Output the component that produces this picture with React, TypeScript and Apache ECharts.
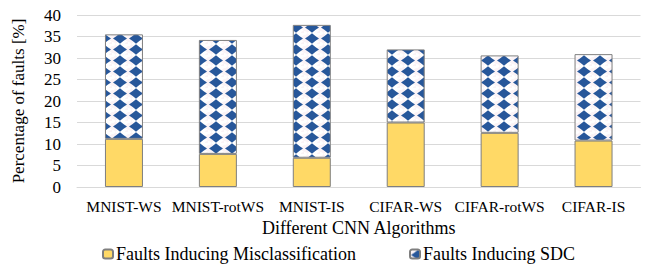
import React, { useEffect, useRef } from "react";
import * as echarts from "echarts";

const categories = ["MNIST-WS", "MNIST-rotWS", "MNIST-IS", "CIFAR-WS", "CIFAR-rotWS", "CIFAR-IS"];
const misclassification = [11.2, 7.7, 6.8, 15.0, 12.6, 10.8];
const sdc = [24.3, 26.5, 30.9, 17.0, 18.0, 20.1];
const yTicks = { min: 0, max: 40, interval: 5 };
const seriesNames = ["Faults Inducing Misclassification", "Faults Inducing SDC"];

function makePattern(): HTMLCanvasElement {
  const w = 16;
  const h = 11;
  const c = document.createElement("canvas");
  c.width = w;
  c.height = h;
  const ctx = c.getContext("2d")!;
  ctx.fillStyle = "#fbf3f6";
  ctx.fillRect(0, 0, w, h);
  ctx.fillStyle = "#ffffff";
  ctx.beginPath();
  ctx.ellipse(0, 0, 3, 2, 0, 0, Math.PI * 2);
  ctx.ellipse(w, 0, 3, 2, 0, 0, Math.PI * 2);
  ctx.ellipse(0, h, 3, 2, 0, 0, Math.PI * 2);
  ctx.ellipse(w, h, 3, 2, 0, 0, Math.PI * 2);
  ctx.fill();
  ctx.fillStyle = "#27579a";
  const cx = w / 2;
  const cy = h / 2;
  const rx = 7;
  const ry = 5.2;
  ctx.beginPath();
  ctx.moveTo(cx, cy - ry);
  ctx.quadraticCurveTo(cx + rx * 0.45, cy - ry * 0.45, cx + rx, cy);
  ctx.quadraticCurveTo(cx + rx * 0.45, cy + ry * 0.45, cx, cy + ry);
  ctx.quadraticCurveTo(cx - rx * 0.45, cy + ry * 0.45, cx - rx, cy);
  ctx.quadraticCurveTo(cx - rx * 0.45, cy - ry * 0.45, cx, cy - ry);
  ctx.closePath();
  ctx.fill();
  return c;
}

export default function App() {
  const ref = useRef<HTMLDivElement>(null);
  useEffect(() => {
    if (!ref.current) return;
    const chart = echarts.init(ref.current, null, { renderer: "svg" });
    const font = "'Liberation Serif', 'Times New Roman', serif";
    const pattern = makePattern();
    const legendBase = {
      top: 240,
      itemWidth: 10,
      itemHeight: 9,
      textStyle: { fontFamily: font, fontSize: 18, color: "#000", padding: [0, 0, 0, -2] },
    };
    chart.setOption({
      animation: false,
      textStyle: { fontFamily: font, color: "#000" },
      grid: { left: 77, right: 7.5, top: 15, bottom: 79, containLabel: false },
      legend: [
        { ...legendBase, data: [seriesNames[0]], left: 97 },
        { ...legendBase, data: [seriesNames[1]], left: 404 },
      ],
      xAxis: {
        type: "category",
        data: categories,
        name: "Different CNN Algorithms",
        nameLocation: "middle",
        nameGap: 32,
        nameTextStyle: { fontFamily: font, fontSize: 18, color: "#000" },
        axisLine: { lineStyle: { color: "#d9d9d9" } },
        axisTick: { show: false },
        axisLabel: { fontFamily: font, fontSize: 15.5, color: "#000", margin: 11, interval: 0 },
      },
      yAxis: {
        type: "value",
        min: yTicks.min,
        max: yTicks.max,
        interval: yTicks.interval,
        name: "Percentage of faults [%]",
        nameLocation: "middle",
        nameRotate: 90,
        nameGap: 50,
        nameTextStyle: { fontFamily: font, fontSize: 17, color: "#000" },
        axisLine: { show: false },
        axisTick: { show: false },
        splitLine: { lineStyle: { color: "#d9d9d9", width: 1 } },
        axisLabel: { fontFamily: font, fontSize: 17, color: "#000", margin: 16 },
      },
      series: [
        {
          name: seriesNames[0],
          type: "bar",
          stack: "total",
          barWidth: 38,
          data: misclassification,
          itemStyle: { color: "#ffd966", borderColor: "#7f7f7f", borderWidth: 1 },
        },
        {
          name: seriesNames[1],
          type: "bar",
          stack: "total",
          barWidth: 38,
          data: sdc,
          itemStyle: {
            color: { image: pattern, repeat: "repeat" },
            borderColor: "#7f7f7f",
            borderWidth: 1,
          },
        },
      ],
    });
    return () => chart.dispose();
  }, []);
  return <div ref={ref} style={{ width: 648, height: 266, position: "absolute", left: 0, top: 0 }} />;
}
